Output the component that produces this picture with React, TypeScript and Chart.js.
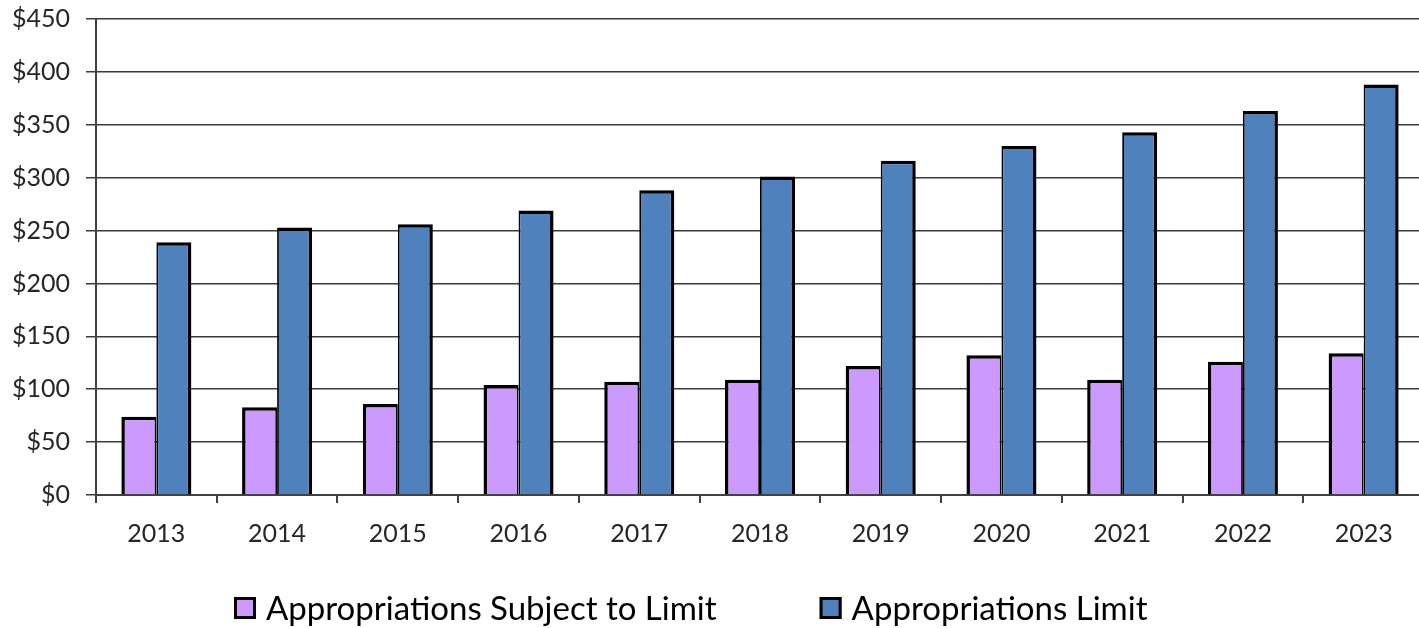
import React, { useEffect, useRef } from "react";
import { Chart, registerables } from "chart.js";

Chart.register(...registerables);

// ---- Data ----
const years = ["2013", "2014", "2015", "2016", "2017", "2018", "2019", "2020", "2021", "2022", "2023"];
const subjectToLimit = [74, 83, 86, 104, 107, 109, 122, 132, 109, 126, 134];
const appropriationsLimit = [239, 253, 256, 269, 288, 301, 316, 330, 343, 363, 388];
const seriesLabels = ["Appropriations Subject to Limit", "Appropriations Limit"];
const seriesColors = ["#CC99FF", "#4F81BD"];
const yMin = 0;
const yMax = 450;
const yStep = 50;

const FONT = "Lato, 'Open Sans', sans-serif";

const bottomLegend = {
  id: "bottomLegend",
  afterDraw(chart: any) {
    const ctx = chart.ctx as CanvasRenderingContext2D;
    ctx.save();
    ctx.font = `33px ${FONT}`;
    ctx.textBaseline = "middle";
    const cy = 608;
    const box = 22;
    let x = 234;
    chart.data.datasets.forEach((ds: any) => {
      ctx.fillStyle = ds.backgroundColor;
      ctx.fillRect(x, cy - box / 2, box, box);
      ctx.lineWidth = 3;
      ctx.strokeStyle = "#000";
      ctx.strokeRect(x + 1.5, cy - box / 2 + 1.5, box - 3, box - 3);
      ctx.fillStyle = "#000";
      ctx.fillText(ds.label, x + box + 10, cy + 1);
      x += box + 10 + ctx.measureText(ds.label).width + 103;
    });
    ctx.restore();
  },
};

export default function App() {
  const canvasRef = useRef<HTMLCanvasElement | null>(null);

  useEffect(() => {
    if (!canvasRef.current) return;
    const chart = new Chart(canvasRef.current, {
      type: "bar",
      data: {
        labels: years,
        datasets: [
          {
            label: seriesLabels[0],
            data: subjectToLimit,
            backgroundColor: seriesColors[0],
            borderColor: "#000",
            borderWidth: { left: 3.5, top: 3.5, right: 1.8, bottom: 0 },
            borderSkipped: "start",
            barPercentage: 1,
            categoryPercentage: 0.58,
          },
          {
            label: seriesLabels[1],
            data: appropriationsLimit,
            backgroundColor: seriesColors[1],
            borderColor: "#000",
            borderWidth: { left: 1.8, top: 3.5, right: 3.5, bottom: 0 },
            borderSkipped: "start",
            barPercentage: 1,
            categoryPercentage: 0.58,
          },
        ],
      },
      options: {
        responsive: false,
        animation: false,
        layout: { padding: { top: 19, left: 0, right: 0, bottom: 0 } },
        plugins: {
          legend: { display: false },
          tooltip: { enabled: false },
        },
        scales: {
          x: {
            offset: true,
            grid: {
              offset: true,
              drawOnChartArea: false,
              drawTicks: true,
              tickLength: 8,
              color: "#404040",
              lineWidth: 2,
            },
            border: { display: true, color: "#404040", width: 2 },
            ticks: {
              color: "#262626",
              font: { family: FONT, size: 25 },
              padding: 16,
              maxRotation: 0,
              autoSkip: false,
            },
            afterFit: (scale: any) => {
              scale.height = 133;
            },
          },
          y: {
            min: yMin,
            max: yMax,
            grid: {
              color: "#3a3a3a",
              lineWidth: 1.5,
              tickLength: 10,
            },
            border: { display: true, color: "#404040", width: 2 },
            ticks: {
              stepSize: yStep,
              color: "#262626",
              font: { family: FONT, size: 25 },
              padding: 16,
              callback: (v: any) => "$" + v,
            },
            afterFit: (scale: any) => {
              scale.width = 96;
              scale.paddingTop = 0;
              scale.paddingBottom = 0;
            },
          },
        },
      },
      plugins: [bottomLegend],
    });
    return () => chart.destroy();
  }, []);

  return (
    <div style={{ position: "fixed", left: 0, top: 0, width: 1424, height: 628, background: "#fff" }}>
      <canvas ref={canvasRef} width={1424} height={628} style={{ display: "block" }} />
    </div>
  );
}
